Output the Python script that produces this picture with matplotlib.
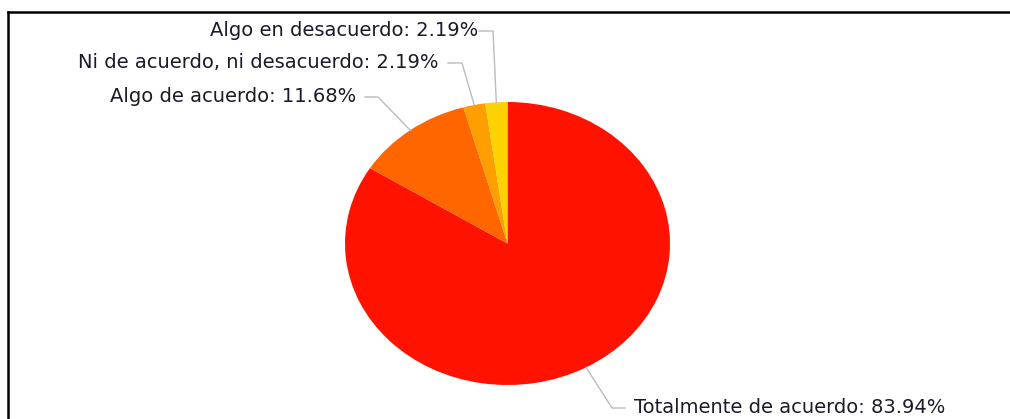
import numpy as np
import matplotlib
matplotlib.use("Agg")
import matplotlib.pyplot as plt
from matplotlib.lines import Line2D

# ---- data ----
categories = ["Totalmente de acuerdo", "Algo de acuerdo",
              "Ni de acuerdo, ni desacuerdo", "Algo en desacuerdo"]
values = [83.94, 11.68, 2.19, 2.19]
colors = ["#FF1300", "#FF6600", "#FF9E01", "#FCD202"]

W, H = 1010, 419
fig = plt.figure(figsize=(W / 100, H / 100), dpi=100)
fig.patch.set_facecolor("white")

# pie ellipse geometry (pixels)
cx, cy, rx, ry = 507.5, 243.5, 162.5, 141.5
pie_ax = fig.add_axes([(cx - rx) / W, (H - (cy + ry)) / H, 2 * rx / W, 2 * ry / H])
pie_ax.pie(values, colors=colors, startangle=90, counterclock=False,
           radius=1.0, wedgeprops=dict(linewidth=0))
pie_ax.set_aspect("auto")
pie_ax.set_xlim(-1, 1)
pie_ax.set_ylim(-1, 1)
pie_ax.axis("off")

# overlay in pixel coords
ov = fig.add_axes([0, 0, 1, 1])
ov.set_xlim(0, W)
ov.set_ylim(H, 0)
ov.axis("off")
ov.patch.set_alpha(0)

# border (top & left)
ov.add_line(Line2D([8, W], [12, 12], color="black", lw=1.8))
ov.add_line(Line2D([8, 8], [12, H], color="black", lw=1.8))

# label layout: (text anchor x, text y, ha, elbow x, horizontal end x)
layout = [
    (634, 407, "left", 612, 625),
    (356, 96, "right", 378, 365),
    (439, 62, "right", 462, 448),
    (478, 30, "right", 493, 479),
]

font = "DejaVu Sans"
fs = 14.0
total = sum(values)
cum = 0.0
for cat, val, (tx, ty, ha, ex, hx) in zip(categories, values, layout):
    mid = 90 - (cum + val / 2) / total * 360
    cum += val
    px = cx + rx * np.cos(np.radians(mid))
    py = cy - ry * np.sin(np.radians(mid))
    ov.add_line(Line2D([px, ex, hx], [py, ty + 1, ty + 1], color="#BBBBBB", lw=1.0))
    ov.text(tx, ty, f"{cat}: {val:.2f}%", ha=ha, va="center",
            fontsize=fs, family=font, color="#1a1a2a")

fig.savefig("out.png", dpi=100, facecolor="white")
